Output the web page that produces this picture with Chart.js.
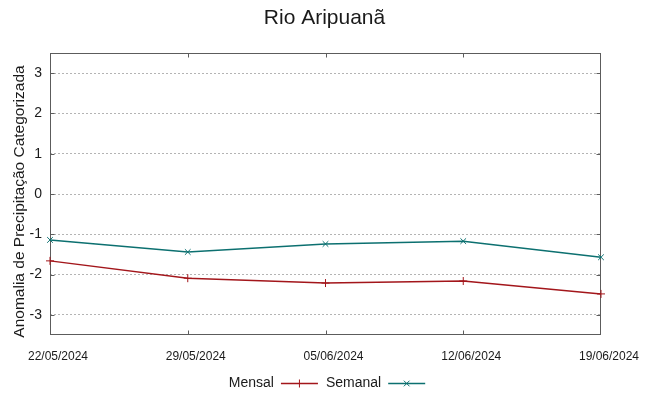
<!DOCTYPE html>
<html lang="pt-BR">
<head>
<meta charset="utf-8">
<title>Rio Aripuanã</title>
<script src="https://cdn.jsdelivr.net/npm/chart.js@4/dist/chart.umd.min.js"></script>
<style>
  html, body { margin: 0; padding: 0; background: #fff; }
  canvas { display: block; }
</style>
</head>
<body>
<canvas id="chart" width="649" height="396"></canvas>
<script>
// Dados
const titulo = 'Rio Aripuanã';
const tituloY = 'Anomalia de Precipitação Categorizada';
const datas = ['22/05/2024', '29/05/2024', '05/06/2024', '12/06/2024', '19/06/2024'];
const mensal = [-1.66, -2.09, -2.21, -2.16, -2.48];
const semanal = [-1.14, -1.44, -1.24, -1.17, -1.57];
const yTicks = [-3, -2, -1, 0, 1, 2, 3];

const FONTE = "'Liberation Sans', Arial, sans-serif";
const COR_TEXTO = '#1a1a1a';
const COR_BORDA = '#5c5c5c';

/**
 * Moldura estilo gnuplot: caixa completa, marcas internas,
 * titulo, titulo do eixo Y e legenda (texto antes da amostra)
 */
const moldura = {
    id: 'moldura',
    beforeDatasetsDraw(chart) {
        const { ctx, chartArea: a, scales: { x, y } } = chart;
        const L = Math.round(a.left) + 0.5, R = Math.round(a.right) - 0.5;
        const T = Math.round(a.top) + 0.5, B = Math.round(a.bottom) - 0.5;
        ctx.save();
        ctx.strokeStyle = COR_BORDA;
        ctx.lineWidth = 1;
        ctx.strokeRect(L, T, R - L, B - T);
        ctx.beginPath();
        x.ticks.forEach((t, i) => {
            const px = Math.min(Math.round(x.getPixelForTick(i)) + 0.5, R);
            ctx.moveTo(px, B); ctx.lineTo(px, B - 4);
            ctx.moveTo(px, T); ctx.lineTo(px, T + 4);
        });
        y.ticks.forEach(t => {
            const py = Math.round(y.getPixelForValue(t.value)) + 0.5;
            ctx.moveTo(L, py); ctx.lineTo(L + 4, py);
            ctx.moveTo(R, py); ctx.lineTo(R - 4, py);
        });
        ctx.stroke();
        ctx.restore();
    },
    afterDraw(chart) {
        const ctx = chart.ctx;
        ctx.save();
        ctx.fillStyle = COR_TEXTO;

        // Titulo centrado na pagina
        ctx.font = `21px ${FONTE}`;
        ctx.textAlign = 'center';
        ctx.textBaseline = 'middle';
        ctx.fillText(titulo, chart.width / 2, 18.5);

        // Titulo do eixo Y
        ctx.font = `15.5px ${FONTE}`;
        ctx.translate(20, 201.5);
        ctx.rotate(-Math.PI / 2);
        ctx.fillText(tituloY, 0, 0);
        ctx.setTransform(1, 0, 0, 1, 0, 0);

        // Legenda
        ctx.font = `14px ${FONTE}`;
        ctx.textAlign = 'left';
        const amostra = 37, gapTexto = 7, gapItem = 8;
        const itens = chart.data.datasets;
        let total = 0;
        itens.forEach((ds, i) => {
            total += ctx.measureText(ds.label).width + gapTexto + amostra;
            if (i > 0) total += gapItem;
        });
        let px = 327 - total / 2;
        const py = 383;
        itens.forEach(ds => {
            const w = ctx.measureText(ds.label).width;
            ctx.fillStyle = COR_TEXTO;
            ctx.fillText(ds.label, px, py);
            px += w + gapTexto;
            ctx.strokeStyle = ds.borderColor;
            ctx.lineWidth = 1.5;
            ctx.beginPath();
            ctx.moveTo(px, py + 0.5);
            ctx.lineTo(px + amostra, py + 0.5);
            ctx.stroke();
            ctx.lineWidth = 1;
            Chart.helpers.drawPoint(ctx, {
                pointStyle: ds.pointStyle, radius: 4, rotation: 0, borderWidth: 1
            }, px + amostra / 2, py + 0.5);
            px += amostra + gapItem;
        });
        ctx.restore();
    }
};

new Chart(document.getElementById('chart'), {
    type: 'line',
    data: {
        labels: datas,
        datasets: [
            {
                label: 'Mensal',
                data: mensal,
                borderColor: '#a3161b',
                backgroundColor: '#a3161b',
                borderWidth: 1.5,
                pointStyle: 'cross',
                pointRadius: 4,
                pointBorderWidth: 1,
                tension: 0,
                fill: false
            },
            {
                label: 'Semanal',
                data: semanal,
                borderColor: '#0c7070',
                backgroundColor: '#0c7070',
                borderWidth: 1.5,
                pointStyle: 'crossRot',
                pointRadius: 4,
                pointBorderWidth: 1,
                tension: 0,
                fill: false
            }
        ]
    },
    options: {
        responsive: false,
        animation: false,
        // espaco reservado para o titulo (desenhado no plugin)
        layout: { padding: { left: 0, right: 48, top: 53, bottom: 0 } },
        plugins: {
            legend: { display: false },
            tooltip: { enabled: false },
            title: { display: false }
        },
        scales: {
            x: {
                offset: false,
                afterFit(scale) { scale.height = 61; },
                grid: { display: false, drawTicks: false },
                border: { display: false },
                ticks: {
                    color: COR_TEXTO,
                    font: { family: FONTE, size: 12 },
                    padding: 14,
                    labelOffset: 8,
                    maxRotation: 0,
                    autoSkip: false
                }
            },
            y: {
                min: -3.5,
                max: 3.5,
                afterFit(scale) { scale.width = 50; },
                afterBuildTicks(scale) {
                    scale.ticks = yTicks.map(v => ({ value: v }));
                },
                grid: { color: '#b4b4b4', lineWidth: 1, drawTicks: false },
                border: { display: false, dash: [2, 2] },
                ticks: {
                    color: COR_TEXTO,
                    font: { family: FONTE, size: 14 },
                    padding: 8
                }
            }
        }
    },
    plugins: [moldura]
});
</script>
</body>
</html>
